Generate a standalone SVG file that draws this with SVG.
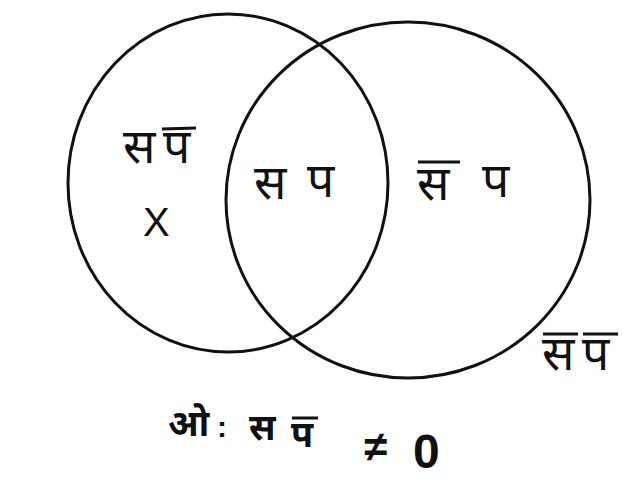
<svg xmlns="http://www.w3.org/2000/svg" width="640" height="500" viewBox="0 0 640 500">
<style>
.c{fill:none;stroke:#111;stroke-width:3}
.t{font-family:"Noto Sans Devanagari","Noto Sans",sans-serif;font-size:48px;fill:#111}
.k{font-family:"Noto Sans Devanagari","Noto Sans",sans-serif;font-size:36px;font-weight:bold;fill:#111}
.b{stroke:#111;stroke-width:3}
.m{font-family:"Liberation Sans","DejaVu Sans",sans-serif;fill:#111}
</style>
<rect width="640" height="500" fill="#fff"/>
<g id="setS"><ellipse class="c" cx="228" cy="183" rx="160" ry="169"/></g>
<g id="setP"><ellipse class="c" cx="408" cy="200" rx="182" ry="178"/></g>
<g id="regionSnotP">
<text class="t" x="123" y="163">स</text><text class="t" x="163" y="163">प</text>
<line class="b" x1="162" y1="129" x2="196" y2="128"/>
<text class="m" x="143" y="236" font-size="40">X</text>
</g>
<g id="regionSP">
<text class="t" x="254" y="199">स</text><text class="t" x="307" y="197">प</text>
</g>
<g id="regionnotSP">
<text class="t" x="417" y="200">स</text><text class="t" x="482" y="197">प</text>
<line class="b" x1="418" y1="162" x2="460" y2="162"/>
</g>
<g id="regionOutside">
<text class="t" x="542" y="370">स</text><text class="t" x="582" y="370">प</text>
<line class="b" x1="543" y1="334" x2="578" y2="334"/>
<line class="b" x1="583" y1="334" x2="618" y2="334"/>
</g>
<g id="caption">
<text class="k" x="168" y="436">ओ</text>
<text class="m" x="217" y="437" font-size="30" font-weight="bold">:</text>
<text class="k" x="249" y="440">स</text>
<text class="k" x="291" y="447">प</text>
<line class="b" x1="292" y1="418" x2="318" y2="418"/>
<text class="m" x="364" y="461" font-size="42" font-weight="bold">≠</text>
<text class="m" x="413" y="468" font-size="48" font-weight="bold">0</text>
</g>
</svg>
